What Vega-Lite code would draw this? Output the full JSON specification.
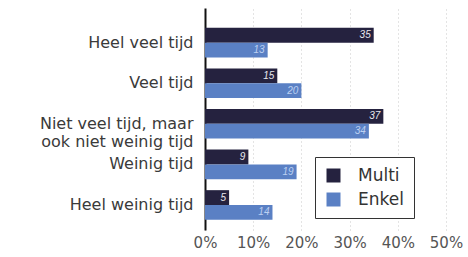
{
  "$schema": "https://vega.github.io/schema/vega-lite/v6.json",
  "width": 241,
  "height": 222,
  "autosize": {"type": "none"},
  "padding": {"left": 205, "top": 8, "right": 22, "bottom": 27},
  "background": "white",
  "data": {
    "values": [
      {"cat": "Heel veel tijd", "type": "Multi", "v": 35},
      {"cat": "Heel veel tijd", "type": "Enkel", "v": 13},
      {"cat": "Veel tijd", "type": "Multi", "v": 15},
      {"cat": "Veel tijd", "type": "Enkel", "v": 20},
      {"cat": "Niet veel tijd, maar ook niet weinig tijd", "type": "Multi", "v": 37},
      {"cat": "Niet veel tijd, maar ook niet weinig tijd", "type": "Enkel", "v": 34},
      {"cat": "Weinig tijd", "type": "Multi", "v": 9},
      {"cat": "Weinig tijd", "type": "Enkel", "v": 19},
      {"cat": "Heel weinig tijd", "type": "Multi", "v": 5},
      {"cat": "Heel weinig tijd", "type": "Enkel", "v": 14}
    ]
  },
  "encoding": {
    "y": {
      "field": "cat", "type": "nominal", "sort": null,
      "scale": {"paddingInner": 0.27, "paddingOuter": 0.37, "align": 0.66},
      "axis": {
        "title": null, "domain": true, "domainColor": "#111", "domainWidth": 2,
        "ticks": false, "labelPadding": 12, "labelFont": "DejaVu Sans",
        "labelFontSize": 16, "labelColor": "#3a3a3a", "labelLineHeight": 18,
        "labelExpr": "datum.value == 'Niet veel tijd, maar ook niet weinig tijd' ? ['Niet veel tijd, maar', 'ook niet weinig tijd'] : datum.value"
      }
    },
    "yOffset": {"field": "type", "type": "nominal", "sort": ["Multi", "Enkel"]},
    "x": {
      "field": "v", "type": "quantitative",
      "scale": {"domain": [0, 50]},
      "axis": {
        "title": null, "values": [0, 10, 20, 30, 40, 50], "labelExpr": "datum.value + '%'",
        "domain": false, "ticks": false, "grid": true, "gridColor": "#c8c8c8",
        "gridDash": [1, 3], "gridWidth": 1, "labelFont": "DejaVu Sans",
        "labelFontSize": 15, "labelColor": "#555", "labelPadding": 5,
        "labelOverlap": false, "labelFlush": false
      }
    }
  },
  "layer": [
    {
      "mark": {"type": "bar"},
      "encoding": {
        "color": {
          "field": "type", "type": "nominal", "sort": ["Multi", "Enkel"],
          "scale": {"domain": ["Multi", "Enkel"], "range": ["#25223f", "#5a80c4"]},
          "legend": {
            "title": null, "orient": "none", "legendX": 110, "legendY": 149,
            "symbolType": "square", "symbolSize": 196, "labelFont": "DejaVu Sans",
            "labelFontSize": 17, "labelColor": "#333", "strokeColor": "#333",
            "padding": 10, "rowPadding": 6, "labelOffset": 16, "fillColor": "white"
          }
        }
      }
    },
    {
      "mark": {"type": "text", "align": "right", "dx": -3, "fontSize": 10, "fontStyle": "italic", "font": "Liberation Sans"},
      "encoding": {
        "text": {"field": "v", "type": "quantitative"},
        "color": {
          "condition": {"test": "datum.type == 'Multi'", "value": "#e8e8ee"},
          "value": "#bcd0f2"
        }
      }
    }
  ],
  "config": {"view": {"stroke": null}}
}
